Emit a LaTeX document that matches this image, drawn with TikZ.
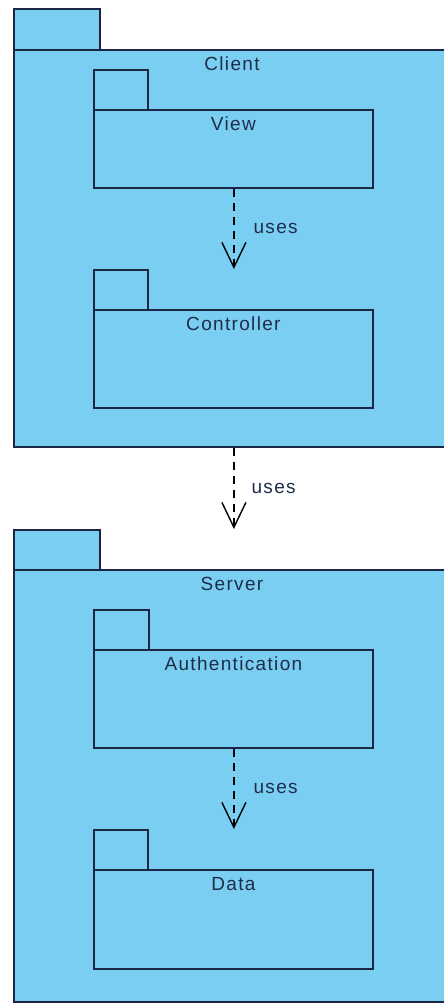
\documentclass[tikz,border=0pt]{standalone}
\usepackage{fontspec}
\setmainfont{Liberation Sans}[LetterSpace=7]
\usetikzlibrary{arrows.meta}
\definecolor{pkgfill}{RGB}{122,206,242}
\definecolor{pkgline}{RGB}{28,38,68}
\definecolor{pkgtext}{RGB}{30,45,72}
\tikzset{
  pkgbox/.style={draw=pkgline, fill=pkgfill, line width=1.8pt, rectangle,
    inner sep=0pt, anchor=north west},
  pkglabel/.style={text=pkgtext, font=\fontsize{19}{22}\selectfont, anchor=base, inner sep=0pt},
  useslabel/.style={text=pkgtext, font=\fontsize{19}{22}\selectfont, anchor=west, inner sep=0pt},
  usesarrow/.style={draw=black, line width=1.4pt, dash pattern=on 8pt off 6pt,
    -{Straight Barb[length=25pt,width=24pt,line width=1.4pt]}}
}
\begin{document}
\begin{tikzpicture}[x=1pt,y=-1pt]
  \useasboundingbox (0,0) rectangle (444,1005);
  \clip (0,0) rectangle (444,1005);
  \fill[white] (0,0) rectangle (444,1005);

  % Client package (its right side runs past the page edge)
  \node[pkgbox, minimum width=86pt, minimum height=41pt] (clienttab) at (13,8) {};
  \node[pkgbox, minimum width=460pt, minimum height=397pt] (client) at (13,49) {};
  \node[pkglabel] (clientlbl) at (232,70.5) {Client};

  \node[pkgbox, minimum width=54pt, minimum height=40pt] (viewtab) at (93,69) {};
  \node[pkgbox, minimum width=279pt, minimum height=78pt] (view) at (93,109) {};
  \node[pkglabel] (viewlbl) at ([yshift=-21.5pt]view.north) {View};

  \node[pkgbox, minimum width=54pt, minimum height=40pt] (ctrltab) at (93,269) {};
  \node[pkgbox, minimum width=279pt, minimum height=98pt] (ctrl) at (93,309) {};
  \node[pkglabel] (ctrllbl) at ([yshift=-21.5pt]ctrl.north) {Controller};

  \draw[usesarrow] ([xshift=0.5pt]view.south) -- ([xshift=0.5pt]view.south |- ctrltab.north)
    node[useslabel, midway, xshift=19pt] (uses1) {uses};

  % Server package
  \node[pkgbox, minimum width=86pt, minimum height=40pt] (servertab) at (13,529) {};
  \node[pkgbox, minimum width=460pt, minimum height=432pt] (server) at (13,569) {};
  \node[pkglabel] (serverlbl) at (232,590.5) {Server};

  % Client uses Server
  \coordinate (cstart) at ([xshift=0.5pt]view.south |- client.south);
  \coordinate (cend) at ([xshift=0.5pt]view.south |- servertab.north);
  \draw[usesarrow] (cstart) -- (cend)
    node[useslabel, midway, xshift=17pt] (uses2) {uses};

  \node[pkgbox, minimum width=55pt, minimum height=40pt] (authtab) at (93,609) {};
  \node[pkgbox, minimum width=279pt, minimum height=98pt] (auth) at (93,649) {};
  \node[pkglabel] (authlbl) at ([yshift=-21.5pt]auth.north) {Authentication};

  \node[pkgbox, minimum width=54pt, minimum height=40pt] (datatab) at (93,829) {};
  \node[pkgbox, minimum width=279pt, minimum height=99pt] (data) at (93,869) {};
  \node[pkglabel] (datalbl) at ([yshift=-21.5pt]data.north) {Data};

  \draw[usesarrow] ([xshift=0.5pt]auth.south) -- ([xshift=0.5pt]auth.south |- datatab.north)
    node[useslabel, midway, xshift=19pt] (uses3) {uses};
\end{tikzpicture}
\end{document}
